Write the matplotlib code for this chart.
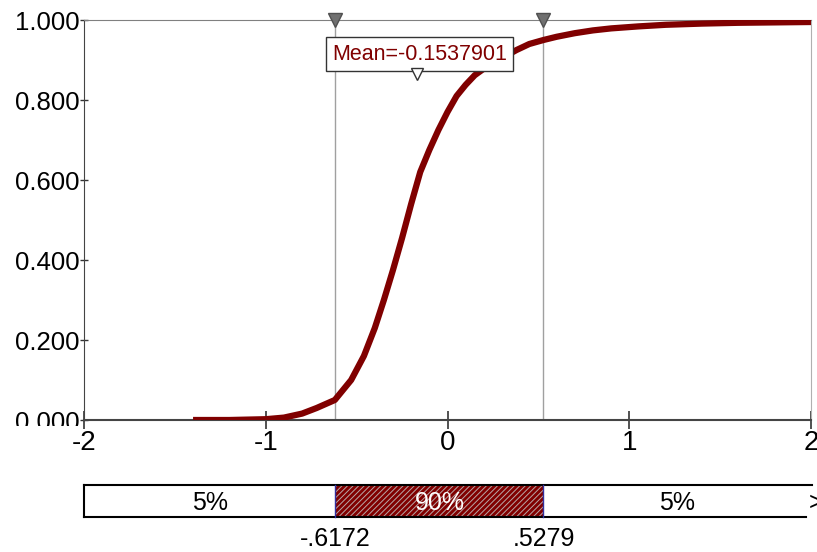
import matplotlib
matplotlib.use("Agg")
import matplotlib.pyplot as plt
from matplotlib import font_manager
from matplotlib.transforms import Bbox, TransformedBbox
from matplotlib.patches import Rectangle

names = {f.name for f in font_manager.fontManager.ttflist}
FONT = "Liberation Sans Narrow" if "Liberation Sans Narrow" in names else "Liberation Sans"
plt.rcParams['font.family'] = [FONT, 'DejaVu Sans']
plt.rcParams['hatch.linewidth'] = 0.7

# Data
x_vals = [-1.40, -1.20, -1.00, -0.90, -0.80, -0.72, -0.62, -0.53, -0.46, -0.40, -0.35,
          -0.30, -0.25, -0.20, -0.15, -0.10, -0.05, 0.00, 0.05, 0.10, 0.15, 0.22, 0.30,
          0.38, 0.45, 0.528, 0.60, 0.70, 0.80, 0.90, 1.05, 1.20, 1.40, 1.60, 1.80, 2.00]
cdf_vals = [0.000, 0.000, 0.002, 0.006, 0.016, 0.030, 0.050, 0.100, 0.160, 0.230, 0.300,
            0.375, 0.455, 0.540, 0.620, 0.675, 0.725, 0.770, 0.810, 0.838, 0.862, 0.885, 0.905,
            0.925, 0.940, 0.950, 0.958, 0.967, 0.974, 0.979, 0.984, 0.988, 0.991, 0.993, 0.994, 0.995]
mean_val = -0.1537901
lo_q, hi_q = -0.6172, 0.5279
lo_label, hi_label = "-.6172", ".5279"
band_labels = ["5%", "90%", "5%"]
x_ticks = [-2, -1, 0, 1, 2]
y_ticks = [0.0, 0.2, 0.4, 0.6, 0.8, 1.0]

DARK_RED = "#800000"
W, H = 817, 552
fig = plt.figure(figsize=(W / 100, H / 100), dpi=100)

def fx(px):
    return px / W

def fy(py):
    return 1 - py / H

left, right = 84, 811
top, bottom = 20, 420
ax = fig.add_axes([fx(left), fy(bottom), fx(right - left), (bottom - top) / H])
ax.plot(x_vals, cdf_vals, color=DARK_RED, lw=4.5, solid_capstyle='butt', zorder=3)
ax.set_xlim(-2, 2)
ax.set_ylim(0, 1)
for q in (lo_q, hi_q):
    ax.axvline(q, color="#a0a0a0", lw=1, zorder=2)

ax.set_xticks(x_ticks)
ax.set_xticklabels([str(t) for t in x_ticks])
ax.set_yticks(y_ticks)
ax.set_yticklabels([f"{t:.3f}" for t in y_ticks])
ax.tick_params(axis='x', direction='inout', length=13, width=1.2, color="#333333",
               labelsize=20, pad=1)
ax.tick_params(axis='y', direction='inout', length=6, width=1, color="#333333",
               labelsize=18.5, pad=0)
ax.spines['left'].set_color("#444444")
ax.spines['bottom'].set_color("#444444")
ax.spines['bottom'].set_linewidth(1.5)
ax.spines['top'].set_color("#808080")
ax.spines['right'].set_color("#b0b0b0")
ax.spines['right'].set_linewidth(0.8)
fig.canvas.draw()
zero_lab = ax.get_yticklabels()[0]
zero_lab.set_clip_box(TransformedBbox(Bbox([[0, fy(426)], [fx(left), 1]]), fig.transFigure))
zero_lab.set_clip_on(True)

# triangles on top for the quantiles
for q in (lo_q, hi_q):
    ax.plot([q], [1.0], marker='v', markersize=10, color="#707070", mec="#505050",
            clip_on=False, zorder=5, linestyle='none')

# mean label
ax.text(mean_val, 0.915, "Mean=" + f"{mean_val:.7f}", color=DARK_RED, fontsize=15.5,
        ha='center', va='center', zorder=6,
        bbox=dict(boxstyle='square,pad=0.3', fc='white', ec='#333333', lw=1))
ax.plot([mean_val - 0.012], [0.865], marker='v', markersize=8, mfc='white', mec='#333333',
        linestyle='none', zorder=7, clip_on=False)

# bottom band bar
bax = fig.add_axes([fx(left), fy(517), fx(right - left), 32 / H])
bax.set_xlim(-2, 2)
bax.set_ylim(0, 1)
bax.axis('off')
bax.add_patch(Rectangle((-2, 0), 4, 1, fc='white', ec='none'))
bax.add_patch(Rectangle((lo_q, 0), hi_q - lo_q, 1, fc=DARK_RED, ec='#b8a8a8',
                        hatch='//////', lw=0))
bax.plot([-2, 2.005], [1, 1], color='black', lw=1.5, clip_on=False)
bax.plot([-2, 1.97], [0, 0], color='black', lw=1.5, clip_on=False)
bax.plot([-2, -2], [0, 1], color='black', lw=1.5, clip_on=False)
for q in (lo_q, hi_q):
    bax.plot([q, q], [0, 1], color='#3030a0', lw=1, clip_on=False)
centers = [(-2 + lo_q) / 2, (lo_q + hi_q) / 2, (hi_q + 2) / 2]
for c, lab, col in zip(centers, band_labels, ['black', 'white', 'black']):
    bax.text(c, 0.45, lab, ha='center', va='center', fontsize=18, color=col)
bax.text(1.985, 0.45, ">", ha='left', va='center', fontsize=18, color='black')
bax.text(lo_q, -0.3, lo_label, ha='center', va='top', fontsize=18)
bax.text(hi_q, -0.3, hi_label, ha='center', va='top', fontsize=18)

fig.savefig("out.png", dpi=100)
